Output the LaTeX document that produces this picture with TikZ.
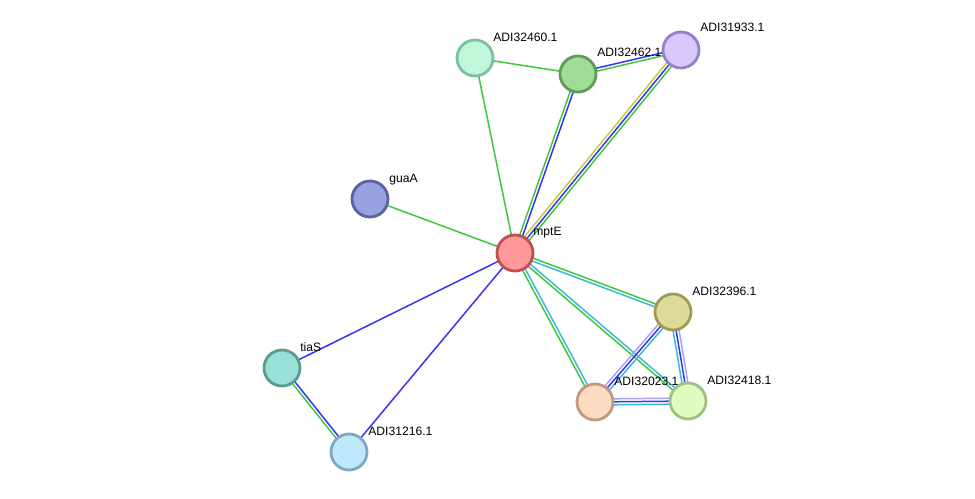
\documentclass[tikz,border=0pt]{standalone}
\usepackage{fontspec}
\setmainfont{Liberation Sans}
\usetikzlibrary{calc, backgrounds}

\definecolor{sgreen}{HTML}{3FC83F}
\definecolor{sblue}{HTML}{3535F0}
\definecolor{scyan}{HTML}{3CB8DC}
\definecolor{syellow}{HTML}{C4CC44}
\definecolor{slav}{HTML}{A8A4F4}

% one line per colour, side by side between two nodes
\newcommand{\link}[3]{%
	\foreach \col/\off in {#3}
		\draw[\col, line width=0.85pt] ($(#1.center)!\off!90:(#2.center)$) --
		($(#2.center)!\off!-90:(#1.center)$);
}

\begin{document}
\begin{tikzpicture}[x=0.02cm, y=-0.02cm,
	prot/.style={circle, draw, line width=1.6pt, minimum size=0.72cm, inner sep=0pt},
	lbl/.style={anchor=west, inner sep=0pt, font=\fontsize{6.9}{8}\selectfont}]

	\useasboundingbox (0,0) rectangle (975,498);

	\node[prot, fill={rgb,255:red,255;green,153;blue,153}, draw={rgb,255:red,192;green,80;blue,80}] (mptE) at (515,253) {};
	\node[prot, fill={rgb,255:red,152;green,162;blue,224}, draw={rgb,255:red,90;green,99;blue,160}] (guaA) at (370,199) {};
	\node[prot, fill={rgb,255:red,192;green,247;blue,216}, draw={rgb,255:red,128;green,192;blue,160}] (a460) at (475,58) {};
	\node[prot, fill={rgb,255:red,160;green,222;blue,152}, draw={rgb,255:red,96;green,156;blue,88}] (a462) at (578,74) {};
	\node[prot, fill={rgb,255:red,216;green,200;blue,252}, draw={rgb,255:red,152;green,128;blue,200}] (a933) at (681,50) {};
	\node[prot, fill={rgb,255:red,220;green,219;blue,152}, draw={rgb,255:red,160;green,154;blue,88}] (a396) at (673,312) {};
	\node[prot, fill={rgb,255:red,252;green,220;blue,192}, draw={rgb,255:red,192;green,154;blue,128}] (a023) at (595,402) {};
	\node[prot, fill={rgb,255:red,224;green,252;blue,192}, draw={rgb,255:red,160;green,192;blue,136}] (a418) at (688,401) {};
	\node[prot, fill={rgb,255:red,152;green,224;blue,216}, draw={rgb,255:red,90;green,156;blue,144}] (tiaS) at (282,368) {};
	\node[prot, fill={rgb,255:red,192;green,232;blue,252}, draw={rgb,255:red,128;green,168;blue,192}] (a216) at (349,452) {};

	\node[lbl] (mptE-l) at ([shift={(18,-20)}]mptE) {mptE};
	\node[lbl] (guaA-l) at ([shift={(19,-19)}]guaA) {guaA};
	\node[lbl] (a460-l) at ([shift={(18,-21)}]a460) {ADI32460.1};
	\node[lbl] (a462-l) at ([shift={(19,-22)}]a462) {ADI32462.1};
	\node[lbl] (a933-l) at ([shift={(19,-23)}]a933) {ADI31933.1};
	\node[lbl] (a396-l) at ([shift={(19,-21)}]a396) {ADI32396.1};
	\node[lbl] (a023-l) at ([shift={(19,-21)}]a023) {ADI32023.1};
	\node[lbl] (a418-l) at ([shift={(19,-21)}]a418) {ADI32418.1};
	\node[lbl] (tiaS-l) at ([shift={(18,-21)}]tiaS) {tiaS};
	\node[lbl] (a216-l) at ([shift={(19,-21)}]a216) {ADI31216.1};

	\begin{pgfonlayer}{background}
		\link{mptE}{guaA}{sgreen/0pt}
		\link{mptE}{a460}{sgreen/0pt}
		\link{a460}{a462}{sgreen/0pt}
		\link{mptE}{tiaS}{sblue/0pt}
		\link{mptE}{a216}{sblue/0pt}
		\link{mptE}{a462}{sgreen/0.85pt, sblue/-0.85pt}
		\link{a462}{a933}{sblue/0.85pt, sgreen/-0.85pt}
		\link{mptE}{a933}{syellow/1.7pt, sblue/0pt, sgreen/-1.7pt}
		\link{mptE}{a396}{sgreen/0.85pt, scyan/-0.85pt}
		\link{mptE}{a418}{scyan/0.85pt, sgreen/-0.85pt}
		\link{mptE}{a023}{scyan/0.85pt, sgreen/-0.85pt}
		\link{a396}{a023}{scyan/1.7pt, sblue/0pt, slav/-1.7pt}
		\link{a396}{a418}{slav/1.7pt, sblue/0pt, scyan/-1.7pt}
		\link{a023}{a418}{slav/1.7pt, sblue/0pt, scyan/-1.7pt}
		\link{tiaS}{a216}{sblue/0.85pt, sgreen/-0.85pt}
	\end{pgfonlayer}

\end{tikzpicture}
\end{document}
